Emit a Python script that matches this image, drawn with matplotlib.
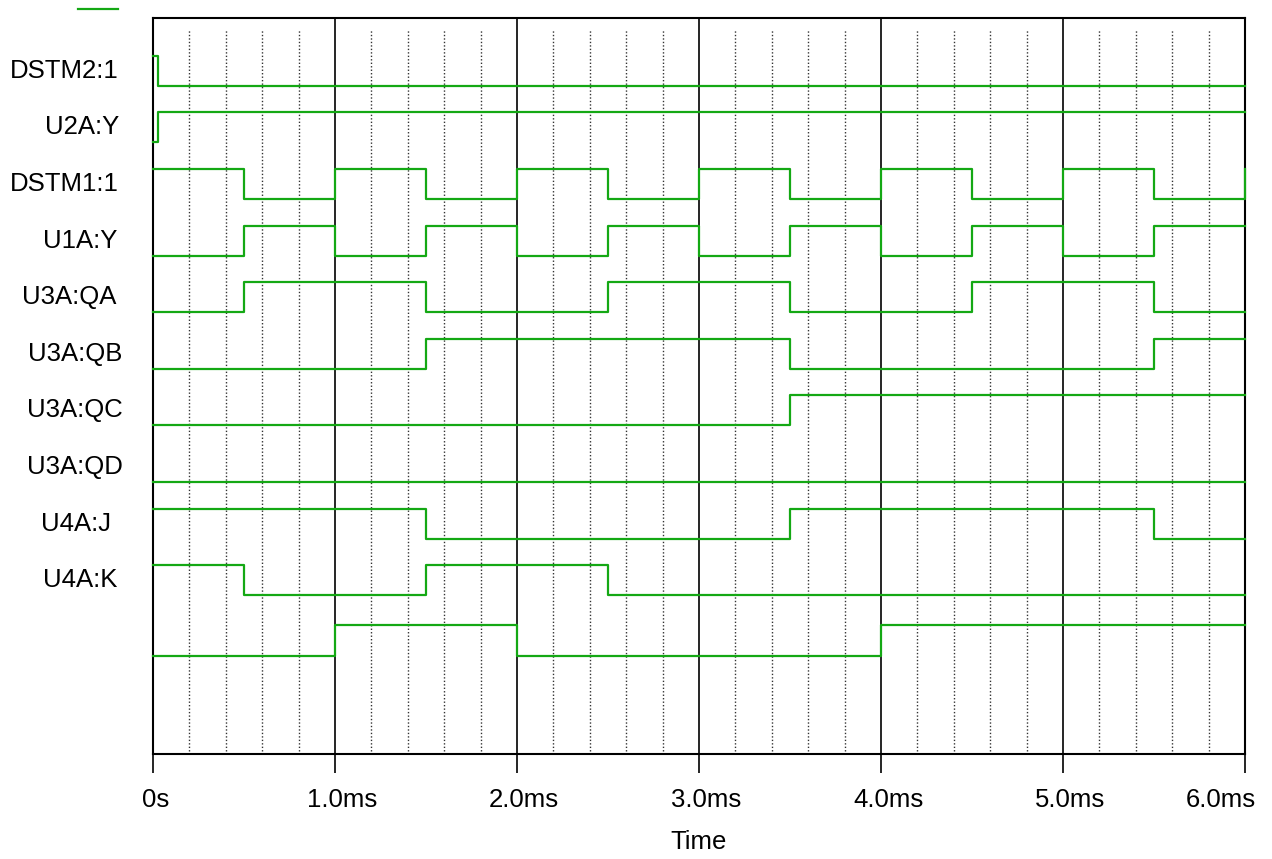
import numpy as np
import matplotlib
matplotlib.use("Agg")
import matplotlib.pyplot as plt
from matplotlib.lines import Line2D
from matplotlib.transforms import offset_copy

plt.rcParams['font.family'] = ['Liberation Sans', 'DejaVu Sans']

# signal names (top to bottom), the last trace has no label
names = ['DSTM2:1', 'U2A:Y', 'DSTM1:1', 'U1A:Y', 'U3A:QA',
         'U3A:QB', 'U3A:QC', 'U3A:QD', 'U4A:J', 'U4A:K']

# transition times (ms) and logic levels after each time
dstm2_t = [0, 0.03, 6.0]
dstm2_v = [1, 0, 0]
u2a_t = [0, 0.03, 6.0]
u2a_v = [0, 1, 1]
dstm1_t = [0, 0.5, 1, 1.5, 2, 2.5, 3, 3.5, 4, 4.5, 5, 5.5, 6.0]
dstm1_v = [1, 0, 1, 0, 1, 0, 1, 0, 1, 0, 1, 0, 1]
u1a_t = [0, 0.5, 1, 1.5, 2, 2.5, 3, 3.5, 4, 4.5, 5, 5.5, 6.0]
u1a_v = [0, 1, 0, 1, 0, 1, 0, 1, 0, 1, 0, 1, 1]
qa_t = [0, 0.5, 1.5, 2.5, 3.5, 4.5, 5.5, 6.0]
qa_v = [0, 1, 0, 1, 0, 1, 0, 0]
qb_t = [0, 1.5, 3.5, 5.5, 6.0]
qb_v = [0, 1, 0, 1, 1]
qc_t = [0, 3.5, 6.0]
qc_v = [0, 1, 1]
qd_t = [0, 6.0]
qd_v = [0, 0]
j_t = [0, 1.5, 3.5, 5.5, 6.0]
j_v = [1, 0, 1, 0, 0]
k_t = [0, 0.5, 1.5, 2.5, 6.0]
k_v = [1, 0, 1, 0, 0]
bus_t = [0, 1, 2, 4, 6.0]
bus_v = [0, 1, 0, 1, 1]

tick_vals = [0, 1, 2, 3, 4, 5, 6]
tick_labels = ['0s', '1.0ms', '2.0ms', '3.0ms', '4.0ms', '5.0ms', '6.0ms']

traces = [(dstm2_t, dstm2_v), (u2a_t, u2a_v), (dstm1_t, dstm1_v), (u1a_t, u1a_v),
          (qa_t, qa_v), (qb_t, qb_v), (qc_t, qc_v), (qd_t, qd_v),
          (j_t, j_v), (k_t, k_v)]

# layout: right edge of each name (px), shift of each tick label (px)
name_right = [119, 119, 119, 117, 116, 122, 123, 123, 111, 117]
tick_shift = [3, 7, 7, 7, 7, 7, -24]

green = '#14a814'
fig = plt.figure(figsize=(12.72, 8.59), dpi=100)
ax = fig.add_axes([153/1272, 1 - 753.5/859, 1092/1272, 735.5/859])

amp = 0.53
for i, (t, v) in enumerate(traces):
    base = 1.2 + i
    y = base - amp * np.array(v)
    ax.step(t, y, where='post', color=green, lw=1.6, clip_on=False, zorder=3)
    ax.text((name_right[i] - 153) / 1092, base - amp / 2, names[i],
            transform=ax.get_yaxis_transform(),
            ha='right', va='center', fontsize=18.5)

# unlabeled bottom trace
ax.step(bus_t, 11.28 - 0.55 * np.array(bus_v), where='post', color=green,
        lw=1.6, clip_on=False, zorder=3)

ax.set_xlim(0, 6)
ax.set_ylim(13, 0)
ax.set_yticks([])

# grid: solid at each ms, dotted every 0.2 ms
for x in np.arange(0.2, 6, 0.2):
    if abs(x - round(x)) < 1e-6:
        ax.axvline(x, color='black', lw=1.2, zorder=1)
    else:
        ax.axvline(x, ymin=0.004, ymax=0.985, color='#333333', lw=1.0,
                   ls=(0, (1, 1.5)), zorder=1)

ax.set_xticks(tick_vals)
ax.set_xticklabels([])
ax.tick_params(axis='x', direction='out', length=13.7, width=1.2)
for tv, tl, dx in zip(tick_vals, tick_labels, tick_shift):
    tr = offset_copy(ax.get_xaxis_transform(), fig=fig, x=dx, y=0, units='dots')
    ax.text(tv, -(807 - 753.5) / 735.5, tl, transform=tr,
            ha='center', va='baseline', fontsize=18.5)
for s in ax.spines.values():
    s.set_linewidth(1.5)

fig.text(699/1272, 1 - 849/859, 'Time', ha='center', va='baseline', fontsize=18.5)

# legend stub line at the top left
fig.add_artist(Line2D([78/1272, 118/1272], [1 - 9/859, 1 - 9/859],
                      color=green, lw=1.6))

fig.savefig('out.png', dpi=100)
